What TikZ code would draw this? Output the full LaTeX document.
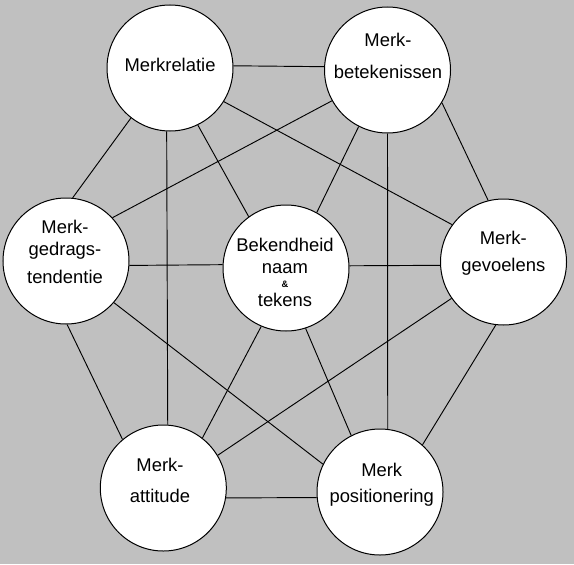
\documentclass[tikz,border=0pt]{standalone}
\usepackage{fontspec}
\setmainfont{Liberation Sans}
\definecolor{achtergrond}{RGB}{192,192,192}

\begin{document}
\begin{tikzpicture}[x=0.75pt,y=-0.75pt,
  merk/.style={circle,draw,fill=white,line width=0.75pt,inner sep=0pt,minimum size=94.5pt},
  tekst/.style={align=center,anchor=base,inner sep=0pt,font=\fontsize{13.8}{20}\selectfont},
  every edge/.style={draw,line width=0.7pt}]
  \fill[achtergrond] (0,0) rectangle (574,564);
  \node[merk] (rel) at (170,68)   {};
  \node[merk] (bet) at (387.5,70) {};
  \node[merk] (ged) at (66,261)   {};
  \node[merk] (bek) at (286,268)  {};
  \node[merk] (gev) at (503.5,262) {};
  \node[merk] (att) at (163.3,488) {};
  \node[merk] (pos) at (380,492)  {};
  \node[tekst] (relT) at (170,71.7)  {Merkrelatie};
  \node[tekst] (betT) at (388,78.3)  {Merk-\\[3.7pt]betekenissen};
  \node[tekst] (gedT) at (65,283.3)  {Merk-\\[-3pt]gedrags-\\[0.5pt]tendentie};
  \node[tekst] (bekT) at (285,306.7) {Bekendheid\\[-3.8pt]naam\\[-9.5pt]{\fontsize{7}{8}\selectfont\bfseries\&}\\[-5.5pt]tekens};
  \node[tekst] (gevT) at (503.3,271.7) {Merk-\\[0.5pt]gevoelens};
  \node[tekst] (attT) at (160,502.7) {Merk-\\[3.25pt]attitude};
  \node[tekst] (posT) at (381.7,502.7) {Merk\\positionering};
  \path
    (rel.2)     edge (bet.177)
    (rel.232)   edge (ged.84)
    (rel.267.5) edge (att.86.4)
    (rel.296)   edge (bek.126)
    (rel.328)   edge (gev.144.5)
    (bet.209)   edge (ged.43.7)
    (bet.243.6) edge (bek.61.4)
    (bet.270)   edge (pos.83.3)
    (bet.329.4) edge (gev.104)
    (ged.356.6) edge (bek.177.5)
    (ged.271.3) edge (att.130.5)
    (ged.319)   edge (pos.154)
    (bek.2)     edge (gev.183)
    (bek.247)   edge (att.52.6)
    (bek.288.7) edge (pos.117)
    (gev.215)   edge (att.31.8)
    (gev.263.8) edge (pos.48.2)
    (att.351)   edge (pos.185.7)
  ;
\end{tikzpicture}
\end{document}
